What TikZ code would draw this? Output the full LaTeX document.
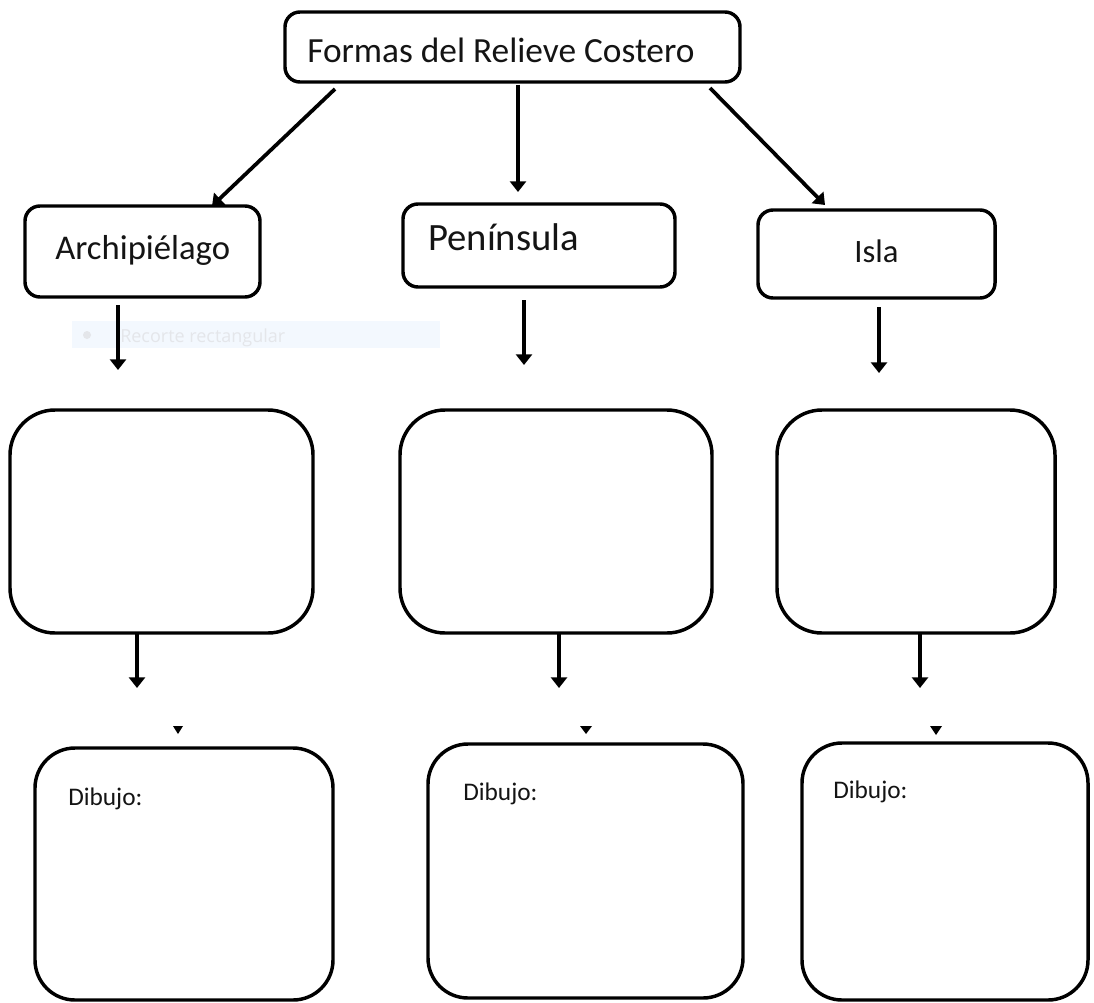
\documentclass[tikz,border=0pt]{standalone}
\usepackage{fontspec}
\setmainfont{Carlito}
\newfontfamily\uifont{Open Sans}
\usetikzlibrary{arrows.meta}
\definecolor{bandblue}{HTML}{F3F8FE}
\definecolor{faintgray}{HTML}{E4E6EA}
\definecolor{inkk}{HTML}{141414}
\begin{document}
\begin{tikzpicture}[x=0.75pt,y=-0.75pt,
  boxa/.style={draw=black, line width=2.6pt, rounded corners=11.25pt, fill=white, inner sep=0pt, outer sep=0pt},
  boxb/.style={draw=black, line width=2.6pt, rounded corners=33.75pt, fill=white, inner sep=0pt, outer sep=0pt},
  boxc/.style={draw=black, line width=2.6pt, rounded corners=30pt, fill=white, inner sep=0pt, outer sep=0pt},
  lbl/.style={anchor=base west, inner sep=0pt, text=inkk},
  arr/.style={line width=2.8pt, -{Triangle[width=12pt,length=8pt]}},
  mini/.style={fill=black}
]
\useasboundingbox (0,0) rectangle (1094,1002);
\fill[white] (0,0) rectangle (1094,1002);

% faint overlay band
\node[fill=bandblue, inner sep=0pt, minimum width=276pt, minimum height=20.25pt] (band) at (256,334.5) {};
\fill[faintgray] (87,335) circle (4);
\node[lbl, text=faintgray, font=\uifont\fontsize{13.5pt}{16pt}\selectfont] (recorte) at (120,342) {Recorte rectangular};

% level 1
\node[boxa, minimum width=341.25pt, minimum height=52.5pt] (top) at (512.5,47) {};
\node[lbl, font=\fontsize{26.5pt}{32pt}\selectfont] (toptext) at (307,63) {Formas del Relieve Costero};

% level 2
\node[boxa, minimum width=176.25pt, minimum height=68.25pt] (archi) at (142.5,251.5) {};
\node[lbl, font=\fontsize{26pt}{31pt}\selectfont] (architext) at (55,259) {Archipiélago};
\node[boxa, minimum width=204pt, minimum height=62.25pt] (pen) at (539,245.5) {};
\node[lbl, font=\fontsize{29pt}{34pt}\selectfont] (pentext) at (428,250) {Península};
\node[boxa, minimum width=177.75pt, minimum height=66pt] (isla) at (876.5,254) {};
\node[lbl, font=\fontsize{24.5pt}{29pt}\selectfont] (islatext) at (854,262) {Isla};

% level 3
\node[boxb, minimum width=227.25pt, minimum height=167.25pt] (cA) at (161.5,521.5) {};
\node[boxb, minimum width=234pt, minimum height=167.25pt] (cB) at (556,521.5) {};
\node[boxb, minimum width=208.5pt, minimum height=167.25pt] (cC) at (916,521.5) {};

% level 4
\node[boxc, minimum width=223.5pt, minimum height=189pt] (dA) at (184,874) {};
\node[lbl, font=\fontsize{19pt}{23pt}\selectfont] (dAt) at (68,805) {Dibujo:};
\node[boxc, minimum width=236.25pt, minimum height=190.5pt] (dB) at (585.5,871) {};
\node[lbl, font=\fontsize{19pt}{23pt}\selectfont] (dBt) at (463,800) {Dibujo:};
\node[boxc, minimum width=214.5pt, minimum height=192.75pt] (dC) at (945,871.5) {};
\node[lbl, font=\fontsize{19pt}{23pt}\selectfont] (dCt) at (833,798) {Dibujo:};

% arrow end points
\coordinate (t1s) at (335,89);  \coordinate (t1e) at (212,206);
\coordinate (t2s) at (518,85);  \coordinate (t2e) at (518,192);
\coordinate (t3s) at (710,88);  \coordinate (t3e) at (825,205);
\coordinate (a1s) at (118,305); \coordinate (a1e) at (118,370);
\coordinate (a2s) at (524,300); \coordinate (a2e) at (524,365);
\coordinate (a3s) at (879,307); \coordinate (a3e) at (879,373);
\coordinate (b1s) at (137,633); \coordinate (b1e) at (137,688);
\coordinate (b2s) at (559,633); \coordinate (b2e) at (559,688);
\coordinate (b3s) at (920,633); \coordinate (b3e) at (920,688);

\draw[arr] (t1s) -- (t1e);
\draw[arr] (t2s) -- (t2e);
\draw[arr] (t3s) -- (t3e);
\draw[arr] (a1s) -- (a1e);
\draw[arr] (a2s) -- (a2e);
\draw[arr] (a3s) -- (a3e);
\draw[arr] (b1s) -- (b1e);
\draw[arr] (b2s) -- (b2e);
\draw[arr] (b3s) -- (b3e);

% small isolated triangles
\fill[mini] (173,726) -- (183,726) -- (178,734) -- cycle;
\fill[mini] (580,726) -- (592,726) -- (586,734) -- cycle;
\fill[mini] (930,726) -- (942,726) -- (936,735) -- cycle;
\end{tikzpicture}
\end{document}
